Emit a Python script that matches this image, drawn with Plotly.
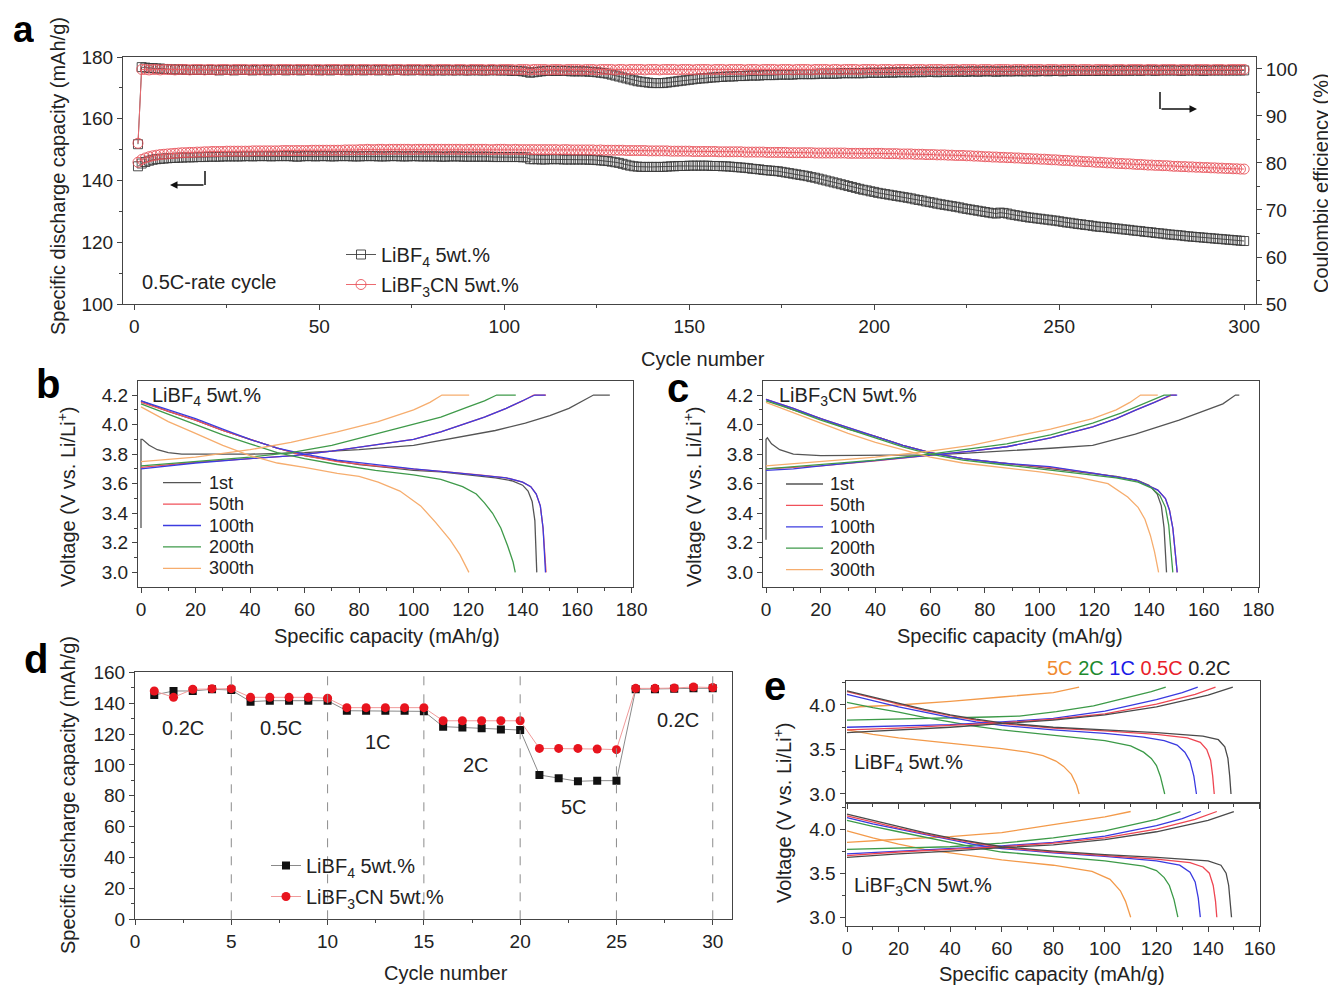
import plotly.graph_objects as go

# The page body has an 8px margin, so the figure is drawn 8px in from the window corner.
OFF = 8
W, H = 1336 - OFF, 986 - OFF


def px(x):
    return (x - OFF) / W


def py(y):
    return 1 - (y - OFF) / H


# ---------------- Panel a : 0.5C cycling ----------------
cycles_a = list(range(1, 301))
cap_bf4 = [
    144.6, 145.5, 146.0, 146.4, 146.7, 146.9, 147.0, 147.1, 147.2, 147.3, 147.3, 147.4, 147.4, 147.5, 147.5, 147.5, 147.6, 147.6, 147.6, 147.7,
    147.7, 147.7, 147.7, 147.8, 147.8, 147.8, 147.8, 147.8, 147.8, 147.9, 147.9, 147.8, 147.9, 147.9, 147.9, 147.9, 147.8, 147.9, 147.9, 147.9,
    147.9, 147.9, 147.8, 147.7, 147.8, 147.9, 147.9, 147.9, 147.8, 147.9, 147.9, 147.9, 147.8, 147.8, 147.9, 147.9, 147.9, 147.9, 147.8, 147.8,
    147.8, 147.9, 147.9, 147.9, 147.9, 147.8, 147.8, 147.8, 147.9, 147.9, 147.9, 147.8, 147.8, 147.8, 147.9, 147.9, 147.8, 147.8, 147.8, 147.8,
    147.8, 147.8, 147.7, 147.7, 147.8, 147.8, 147.8, 147.8, 147.7, 147.7, 147.7, 147.7, 147.7, 147.7, 147.7, 147.7, 147.6, 147.6, 147.6, 147.6,
    147.6, 147.6, 147.6, 147.6, 147.5, 147.5, 146.9, 146.9, 146.9, 146.8, 146.8, 146.9, 146.9, 146.9, 146.9, 146.8, 146.8, 146.8, 146.8, 146.8,
    146.8, 146.8, 146.7, 146.7, 146.6, 146.5, 146.4, 146.3, 146.1, 145.9, 145.7, 145.4, 145.1, 144.8, 144.6, 144.5, 144.4, 144.4, 144.4, 144.4,
    144.4, 144.4, 144.4, 144.5, 144.6, 144.6, 144.7, 144.7, 144.7, 144.8, 144.8, 144.8, 144.8, 144.8, 144.8, 144.7, 144.7, 144.7, 144.6, 144.6,
    144.5, 144.4, 144.3, 144.2, 144.1, 144.0, 143.8, 143.7, 143.6, 143.4, 143.3, 143.2, 143.1, 143.0, 142.8, 142.6, 142.4, 142.2, 142.0, 141.8,
    141.6, 141.4, 141.1, 140.9, 140.6, 140.3, 140.0, 139.7, 139.4, 139.1, 138.8, 138.5, 138.2, 137.9, 137.6, 137.3, 137.0, 136.8, 136.5, 136.3,
    136.0, 135.8, 135.6, 135.4, 135.2, 135.0, 134.8, 134.6, 134.4, 134.2, 133.9, 133.7, 133.5, 133.2, 133.0, 132.8, 132.5, 132.3, 132.1, 131.9,
    131.7, 131.5, 131.3, 131.0, 130.8, 130.6, 130.4, 130.2, 130.0, 129.8, 129.6, 129.4, 129.3, 129.6, 129.5, 129.3, 129.0, 128.8, 128.6, 128.4,
    128.2, 128.0, 127.9, 127.7, 127.6, 127.4, 127.3, 127.1, 127.0, 126.8, 126.6, 126.4, 126.3, 126.1, 125.9, 125.8, 125.6, 125.5, 125.3, 125.1,
    125.0, 124.9, 124.8, 124.6, 124.5, 124.4, 124.2, 124.1, 124.0, 123.8, 123.7, 123.6, 123.4, 123.3, 123.2, 123.0, 122.9, 122.8, 122.6, 122.5,
    122.4, 122.3, 122.2, 122.0, 121.9, 121.8, 121.7, 121.6, 121.5, 121.4, 121.3, 121.2, 121.1, 121.0, 120.9, 120.8, 120.7, 120.6, 120.5, 120.4,
]
cap_cn = [
    145.9, 146.8, 147.3, 147.7, 148.0, 148.2, 148.4, 148.5, 148.6, 148.7, 148.8, 148.9, 149.0, 149.0, 149.1, 149.1, 149.2, 149.2, 149.3, 149.3,
    149.4, 149.4, 149.4, 149.4, 149.5, 149.5, 149.5, 149.5, 149.5, 149.5, 149.5, 149.6, 149.6, 149.6, 149.6, 149.6, 149.6, 149.6, 149.6, 149.7,
    149.7, 149.7, 149.7, 149.7, 149.7, 149.7, 149.7, 149.8, 149.8, 149.8, 149.8, 149.8, 149.8, 149.8, 149.8, 149.8, 149.9, 149.9, 149.9, 149.9,
    150.0, 150.0, 150.1, 150.0, 150.0, 150.1, 150.1, 150.0, 150.1, 150.1, 150.1, 150.1, 150.1, 150.1, 150.0, 150.1, 150.1, 150.1, 150.1, 150.1,
    150.1, 150.1, 150.1, 150.1, 150.1, 150.1, 150.1, 150.1, 150.0, 150.1, 150.1, 150.1, 150.1, 150.1, 150.1, 150.0, 150.0, 150.1, 150.1, 150.1,
    150.0, 150.0, 150.1, 150.0, 150.0, 150.0, 150.0, 150.0, 150.0, 150.0, 150.0, 150.0, 150.0, 150.0, 149.9, 150.0, 150.0, 149.9, 149.9, 149.9,
    149.9, 149.9, 149.9, 149.9, 149.8, 149.9, 149.8, 149.8, 149.8, 149.8, 149.8, 149.8, 149.7, 149.7, 149.7, 149.7, 149.7, 149.7, 149.6, 149.6,
    149.6, 149.6, 149.6, 149.6, 149.5, 149.5, 149.5, 149.5, 149.5, 149.5, 149.4, 149.4, 149.4, 149.4, 149.4, 149.4, 149.4, 149.3, 149.3, 149.3,
    149.3, 149.3, 149.3, 149.3, 149.2, 149.2, 149.2, 149.2, 149.2, 149.2, 149.1, 149.1, 149.1, 149.1, 149.1, 149.1, 149.0, 149.0, 149.0, 149.0,
    149.0, 149.0, 149.0, 148.9, 148.9, 148.9, 148.9, 148.9, 148.9, 148.9, 148.9, 148.9, 148.8, 148.8, 148.8, 148.8, 148.8, 148.8, 148.8, 148.8,
    148.8, 148.8, 148.7, 148.7, 148.7, 148.7, 148.6, 148.6, 148.6, 148.6, 148.5, 148.5, 148.5, 148.4, 148.4, 148.4, 148.3, 148.3, 148.3, 148.2,
    148.2, 148.1, 148.1, 148.1, 148.0, 148.0, 147.9, 147.9, 147.8, 147.7, 147.7, 147.6, 147.6, 147.5, 147.5, 147.4, 147.4, 147.3, 147.3, 147.2,
    147.1, 147.1, 147.0, 147.0, 146.9, 146.9, 146.8, 146.7, 146.7, 146.6, 146.5, 146.5, 146.4, 146.3, 146.3, 146.2, 146.1, 146.1, 146.0, 145.9,
    145.9, 145.8, 145.7, 145.7, 145.6, 145.5, 145.5, 145.4, 145.4, 145.3, 145.2, 145.2, 145.1, 145.0, 145.0, 144.9, 144.9, 144.8, 144.8, 144.7,
    144.6, 144.6, 144.5, 144.5, 144.4, 144.4, 144.3, 144.3, 144.2, 144.2, 144.1, 144.1, 144.0, 144.0, 143.9, 143.9, 143.8, 143.8, 143.7, 143.7,
]
ce_bf4 = [
    84.0, 100.4, 100.3, 100.2, 100.2, 100.1, 100.1, 100.0, 100.0, 99.9, 99.9, 99.9, 99.9, 99.8, 99.8, 99.8, 99.8, 99.8, 99.8, 99.8,
    99.8, 99.8, 99.7, 99.8, 99.8, 99.8, 99.7, 99.8, 99.8, 99.8, 99.8, 99.7, 99.8, 99.8, 99.8, 99.7, 99.8, 99.8, 99.8, 99.8,
    99.7, 99.8, 99.8, 99.8, 99.7, 99.8, 99.8, 99.8, 99.8, 99.7, 99.8, 99.8, 99.7, 99.8, 99.8, 99.8, 99.8, 99.7, 99.8, 99.8,
    99.8, 99.7, 99.8, 99.8, 99.8, 99.7, 99.8, 99.8, 99.7, 99.8, 99.8, 99.8, 99.7, 99.8, 99.7, 99.8, 99.8, 99.7, 99.8, 99.7,
    99.7, 99.8, 99.7, 99.7, 99.8, 99.7, 99.7, 99.8, 99.7, 99.7, 99.7, 99.8, 99.7, 99.7, 99.7, 99.7, 99.8, 99.7, 99.7, 99.7,
    99.7, 99.6, 99.6, 99.6, 99.5, 99.4, 99.2, 99.3, 99.4, 99.5, 99.6, 99.6, 99.6, 99.6, 99.6, 99.6, 99.6, 99.5, 99.5, 99.5,
    99.5, 99.5, 99.4, 99.4, 99.3, 99.2, 99.1, 99.0, 98.8, 98.6, 98.4, 98.2, 98.0, 97.8, 97.6, 97.4, 97.3, 97.2, 97.1, 97.0,
    97.0, 97.0, 97.0, 97.1, 97.2, 97.3, 97.4, 97.5, 97.6, 97.7, 97.8, 97.9, 98.0, 98.0, 98.1, 98.2, 98.2, 98.3, 98.3, 98.4,
    98.4, 98.4, 98.5, 98.5, 98.5, 98.6, 98.6, 98.6, 98.6, 98.7, 98.7, 98.7, 98.7, 98.8, 98.8, 98.8, 98.8, 98.8, 98.9, 98.9,
    98.9, 98.9, 98.9, 98.9, 99.0, 99.0, 99.0, 99.0, 99.0, 99.0, 99.1, 99.1, 99.1, 99.1, 99.1, 99.1, 99.1, 99.2, 99.2, 99.2,
    99.2, 99.2, 99.2, 99.3, 99.2, 99.3, 99.3, 99.3, 99.3, 99.3, 99.3, 99.4, 99.3, 99.4, 99.4, 99.4, 99.3, 99.4, 99.4, 99.4,
    99.4, 99.4, 99.5, 99.4, 99.4, 99.5, 99.5, 99.4, 99.5, 99.5, 99.5, 99.5, 99.4, 99.5, 99.5, 99.5, 99.5, 99.5, 99.6, 99.5,
    99.5, 99.6, 99.5, 99.5, 99.6, 99.6, 99.5, 99.6, 99.6, 99.6, 99.5, 99.6, 99.6, 99.6, 99.6, 99.6, 99.6, 99.6, 99.6, 99.6,
    99.6, 99.7, 99.6, 99.6, 99.6, 99.7, 99.6, 99.7, 99.6, 99.7, 99.7, 99.6, 99.7, 99.7, 99.7, 99.6, 99.7, 99.7, 99.7, 99.7,
    99.7, 99.7, 99.6, 99.7, 99.7, 99.7, 99.7, 99.7, 99.6, 99.7, 99.7, 99.7, 99.7, 99.7, 99.7, 99.7, 99.7, 99.7, 99.7, 99.7,
]
ce_cn = [
    84.2, 99.9, 99.9, 99.8, 99.9, 99.9, 99.8, 99.9, 99.9, 99.9, 99.8, 99.9, 99.9, 99.9, 99.8, 99.9, 99.9, 99.9, 99.8, 99.9,
    99.9, 99.8, 99.9, 99.9, 99.9, 99.8, 99.9, 99.9, 99.9, 99.9, 99.8, 99.9, 99.9, 99.8, 99.9, 99.9, 99.9, 99.8, 99.9, 99.9,
    99.9, 99.9, 99.8, 99.9, 99.9, 99.9, 99.9, 99.8, 99.9, 99.9, 99.8, 99.9, 99.9, 99.9, 99.9, 99.8, 99.9, 99.9, 99.9, 99.8,
    99.9, 99.9, 99.9, 99.8, 99.9, 99.9, 99.9, 99.9, 99.8, 99.9, 99.9, 99.9, 99.8, 99.9, 99.9, 99.9, 99.9, 99.8, 99.9, 99.9,
    99.8, 99.9, 99.9, 99.9, 99.9, 99.8, 99.9, 99.9, 99.9, 99.8, 99.9, 99.9, 99.9, 99.9, 99.8, 99.9, 99.9, 99.8, 99.9, 99.9,
    99.9, 99.9, 99.8, 99.9, 99.9, 99.9, 99.8, 99.9, 99.9, 99.9, 99.9, 99.8, 99.9, 99.9, 99.9, 99.8, 99.9, 99.9, 99.9, 99.9,
    99.8, 99.9, 99.9, 99.9, 99.8, 99.9, 99.9, 99.9, 99.9, 99.8, 99.9, 99.9, 99.8, 99.9, 99.9, 99.9, 99.9, 99.8, 99.9, 99.9,
    99.9, 99.8, 99.9, 99.9, 99.9, 99.9, 99.8, 99.9, 99.9, 99.9, 99.8, 99.9, 99.9, 99.9, 99.9, 99.8, 99.9, 99.9, 99.9, 99.8,
    99.9, 99.9, 99.9, 99.9, 99.8, 99.9, 99.9, 99.9, 99.8, 99.9, 99.9, 99.9, 99.9, 99.8, 99.9, 99.9, 99.9, 99.8, 99.9, 99.9,
    99.9, 99.9, 99.8, 99.9, 99.9, 99.9, 99.9, 99.8, 99.9, 99.9, 99.8, 99.9, 99.9, 99.9, 99.9, 99.8, 99.9, 99.9, 99.9, 99.9,
    99.8, 99.9, 99.9, 99.9, 99.8, 99.9, 99.9, 99.9, 99.9, 99.8, 99.9, 99.9, 99.9, 99.8, 99.9, 99.9, 99.9, 99.9, 99.8, 99.9,
    99.9, 99.9, 99.8, 99.9, 99.9, 99.9, 99.9, 99.8, 99.9, 99.9, 99.9, 99.8, 99.9, 99.9, 99.9, 99.9, 99.8, 99.9, 99.9, 99.9,
    99.8, 99.9, 99.9, 99.9, 99.9, 99.8, 99.9, 99.9, 99.9, 99.8, 99.9, 99.9, 99.9, 99.9, 99.8, 99.9, 99.9, 99.9, 99.8, 99.9,
    99.9, 99.9, 99.9, 99.8, 99.9, 99.9, 99.9, 99.8, 99.9, 99.9, 99.9, 99.9, 99.8, 99.9, 99.9, 99.9, 99.8, 99.9, 99.9, 99.9,
    99.9, 99.8, 99.9, 99.9, 99.9, 99.8, 99.9, 99.9, 99.9, 99.9, 99.8, 99.9, 99.9, 99.9, 99.8, 99.9, 99.9, 99.9, 99.9, 99.9,
]

# ---------------- Panel b : LiBF4 5wt.% voltage profiles (capacity, voltage) ----------------
b_chg_1st = [(0, 3.30), (0, 3.90), (0.5, 3.90), (3, 3.86), (6, 3.83), (10, 3.81), (15, 3.80), (40, 3.80), (60, 3.81), (80, 3.83),
             (100, 3.86), (118, 3.92), (130, 3.96), (141, 4.01), (150, 4.06), (157, 4.11), (162, 4.16), (166, 4.20), (172, 4.20)]
b_dis_1st = [(0, 4.16), (10, 4.09), (20, 4.03), (30, 3.96), (40, 3.90), (50, 3.84), (60, 3.79), (70, 3.76), (80, 3.73), (90, 3.71),
             (100, 3.69), (110, 3.68), (120, 3.66), (130, 3.64), (136, 3.62), (140, 3.59), (142, 3.55), (143.5, 3.48), (144.5, 3.35),
             (145.0, 3.15), (145.2, 3.0)]
b_chg_50 = [(0, 3.71), (10, 3.73), (20, 3.745), (40, 3.77), (56, 3.79), (70, 3.82), (85, 3.86), (100, 3.90), (110, 3.95), (118, 4.00),
            (126, 4.05), (134, 4.11), (140, 4.16), (144, 4.20), (148.6, 4.20)]
b_dis_50 = [(0, 4.15), (10, 4.09), (20, 4.03), (30, 3.96), (40, 3.90), (50, 3.84), (60, 3.79), (72, 3.75), (86, 3.72), (100, 3.70),
            (112, 3.68), (124, 3.66), (134, 3.64), (140, 3.61), (143, 3.58), (145, 3.53), (146.5, 3.45), (147.5, 3.30), (148.2, 3.12),
            (148.6, 3.0)]
b_chg_100 = [(0, 3.70), (10, 3.72), (20, 3.74), (40, 3.77), (56, 3.79), (70, 3.82), (85, 3.86), (100, 3.90), (110, 3.95), (118, 4.00),
             (126, 4.05), (134, 4.11), (140, 4.16), (144.5, 4.20), (148.4, 4.20)]
b_dis_100 = [(0, 4.16), (10, 4.10), (20, 4.04), (30, 3.97), (40, 3.90), (50, 3.84), (60, 3.80), (72, 3.76), (86, 3.73), (100, 3.70),
             (112, 3.68), (124, 3.66), (134, 3.64), (140, 3.61), (143, 3.58), (145, 3.53), (146.5, 3.45), (147.5, 3.30), (148.0, 3.12),
             (148.4, 3.0)]
b_chg_200 = [(0, 3.72), (20, 3.75), (40, 3.78), (55, 3.81), (70, 3.86), (87, 3.94), (100, 4.00), (110, 4.05), (120, 4.12), (126, 4.16),
             (130.5, 4.20), (137.5, 4.20)]
b_dis_200 = [(0, 4.14), (10, 4.07), (20, 4.00), (30, 3.93), (40, 3.87), (50, 3.81), (60, 3.77), (72, 3.73), (86, 3.69), (100, 3.66),
             (110, 3.63), (118, 3.58), (123, 3.53), (126, 3.47), (129, 3.40), (132, 3.30), (134.5, 3.18), (136.5, 3.07), (137.3, 3.0)]
b_chg_300 = [(0, 3.75), (20, 3.78), (40, 3.83), (55, 3.88), (72, 3.95), (87, 4.02), (100, 4.10), (106, 4.15), (110.4, 4.20), (120.4, 4.20)]
b_dis_300 = [(0, 4.12), (10, 4.02), (20, 3.94), (30, 3.86), (40, 3.79), (50, 3.74), (60, 3.71), (72, 3.67), (80, 3.65), (87, 3.61),
             (95, 3.55), (102.6, 3.45), (108, 3.34), (113.4, 3.22), (117, 3.12), (120.3, 3.0)]

# ---------------- Panel c : LiBF3CN 5wt.% voltage profiles ----------------
c_chg_1st = [(0, 3.22), (0, 3.90), (0.5, 3.91), (2, 3.87), (5, 3.83), (10, 3.80), (20, 3.79), (40, 3.79), (60, 3.795), (72, 3.805),
             (88, 3.82), (104, 3.84), (119.4, 3.86), (135, 3.935), (151, 4.03), (160, 4.09), (167, 4.14), (171.6, 4.20), (173, 4.20)]
c_dis_1st = [(0, 4.17), (10, 4.10), (20, 4.04), (30, 3.97), (40, 3.92), (50, 3.86), (60, 3.81), (72, 3.77), (86, 3.74), (100, 3.71),
             (115, 3.68), (128, 3.65), (136, 3.62), (140, 3.59), (143, 3.53), (144.5, 3.45), (145.5, 3.30), (146.0, 3.15), (146.4, 3.0)]
c_chg_50 = [(0, 3.70), (10, 3.71), (20, 3.72), (40, 3.755), (60, 3.79), (75, 3.82), (88, 3.85), (104, 3.91), (119.4, 3.985), (128, 4.04),
            (135.3, 4.10), (142, 4.15), (148.3, 4.20), (150.0, 4.20)]
c_dis_50 = [(0, 4.17), (10, 4.11), (20, 4.04), (30, 3.98), (40, 3.92), (50, 3.86), (60, 3.81), (72, 3.77), (86, 3.74), (103.7, 3.71),
            (120, 3.67), (135.3, 3.625), (143.2, 3.557), (146, 3.50), (147.5, 3.42), (148.7, 3.30), (149.5, 3.15), (150.0, 3.05), (150.3, 3.0)]
c_chg_100 = [(0, 3.69), (10, 3.70), (20, 3.72), (40, 3.755), (60, 3.79), (75, 3.82), (88, 3.85), (104, 3.91), (119.4, 3.985), (128, 4.04),
             (135.3, 4.10), (142, 4.15), (147.9, 4.20), (150.3, 4.20)]
c_dis_100 = [(0, 4.17), (10, 4.11), (20, 4.04), (30, 3.98), (40, 3.92), (50, 3.86), (60, 3.81), (72, 3.77), (86, 3.74), (103.7, 3.715),
             (120, 3.67), (135.3, 3.625), (143.2, 3.557), (146, 3.50), (147.5, 3.42), (148.7, 3.30), (149.5, 3.15), (150.0, 3.05), (150.3, 3.0)]
c_chg_200 = [(0, 3.70), (20, 3.73), (40, 3.76), (60, 3.80), (75, 3.835), (88, 3.87), (104, 3.93), (119.4, 4.01), (130, 4.08), (138, 4.14),
             (145.5, 4.20), (148, 4.20)]
c_dis_200 = [(0, 4.16), (10, 4.10), (20, 4.03), (30, 3.97), (40, 3.91), (50, 3.85), (60, 3.80), (72, 3.76), (86, 3.73), (100, 3.70),
             (115, 3.67), (128, 3.64), (136, 3.61), (141, 3.57), (144, 3.52), (146, 3.44), (147.2, 3.32), (148, 3.17), (148.5, 3.06), (148.7, 3.0)]
c_chg_300 = [(0, 3.72), (20, 3.75), (40, 3.78), (60, 3.82), (75, 3.86), (88, 3.91), (104, 3.97), (119.4, 4.04), (128, 4.10), (133, 4.15),
             (136.9, 4.20), (143.2, 4.20)]
c_dis_300 = [(0, 4.15), (10, 4.08), (20, 4.01), (30, 3.94), (40, 3.88), (50, 3.83), (60, 3.78), (72, 3.74), (86, 3.71), (100, 3.68),
             (115, 3.64), (125, 3.60), (132.2, 3.51), (136, 3.44), (138.5, 3.36), (140.5, 3.25), (142, 3.14), (143, 3.05), (143.5, 3.0)]

cycle_names = ["1st", "50th", "100th", "200th", "300th"]
cycle_colors = ["#555555", "#f0505a", "#3c3ce0", "#3f9a4a", "#f6ad6e"]

# ---------------- Panel d : rate capability ----------------
cycles_d = list(range(1, 31))
rate_bf4 = [145.3, 147.9, 147.9, 149.0, 148.5, 141.0, 141.6, 141.6, 141.6, 141.6,
            135.1, 135.1, 135.1, 135.1, 134.7, 124.8, 124.3, 123.7, 123.0, 122.6,
            93.5, 91.3, 89.4, 89.8, 89.8, 149.0, 149.0, 149.4, 149.6, 149.6]
rate_cn = [147.9, 143.8, 149.0, 149.4, 149.4, 143.8, 143.8, 143.8, 143.8, 143.2,
           137.1, 137.1, 137.1, 137.1, 137.1, 128.6, 128.6, 128.6, 128.6, 128.6,
           110.7, 110.7, 110.7, 110.3, 109.9, 149.6, 149.6, 149.8, 150.5, 150.1]
rate_bounds = [5, 10, 15, 20, 25, 30]
rate_labels = ["0.2C", "0.5C", "1C", "2C", "5C", "0.2C"]
rate_label_x = [2.5, 7.6, 12.6, 17.7, 22.8, 28.2]
rate_label_y = [124, 124, 115, 100, 73, 129]

# ---------------- Panel e : voltage profiles at different rates ----------------
e1_chg_5C = [(0, 3.96), (5, 3.98), (20, 4.00), (40, 4.04), (60, 4.09), (80, 4.14), (90, 4.20)]
e1_dis_5C = [(0, 3.72), (10, 3.67), (20, 3.63), (40, 3.57), (60, 3.51), (70, 3.47), (76, 3.43), (81, 3.37), (84, 3.31), (87, 3.22),
             (89, 3.10), (90, 3.0)]
e1_chg_2C = [(0, 3.83), (20, 3.84), (40, 3.85), (55, 3.865), (66.8, 3.876), (81.2, 3.925), (95.6, 3.99), (110, 4.09), (118, 4.15), (123.6, 4.20)]
e1_dis_2C = [(0, 4.03), (10, 3.97), (20, 3.92), (30, 3.86), (40, 3.81), (50, 3.76), (60, 3.72), (80, 3.66), (100, 3.60), (110, 3.54),
             (115, 3.47), (118, 3.40), (120, 3.32), (121.5, 3.20), (122.5, 3.10), (123.2, 3.0)]
e1_chg_1C = [(0, 3.75), (20, 3.765), (40, 3.78), (60, 3.81), (80, 3.85), (100, 3.93), (120, 4.06), (130, 4.14), (136, 4.20)]
e1_dis_1C = [(0, 4.12), (10, 4.05), (20, 3.98), (30, 3.92), (40, 3.86), (50, 3.81), (60, 3.77), (80, 3.72), (100, 3.68), (115, 3.64),
             (123, 3.60), (128, 3.55), (131, 3.47), (133, 3.37), (134.5, 3.20), (135.5, 3.0)]
e1_chg_05C = [(0, 3.72), (20, 3.74), (40, 3.77), (60, 3.80), (80, 3.84), (100, 3.90), (120, 4.01), (135, 4.12), (142.9, 4.20)]
e1_dis_05C = [(0, 4.15), (10, 4.08), (20, 4.01), (30, 3.94), (40, 3.88), (50, 3.83), (60, 3.79), (80, 3.74), (100, 3.71), (120, 3.67),
              (132, 3.63), (137, 3.58), (139.5, 3.50), (141, 3.38), (141.8, 3.20), (142.4, 3.0)]
e1_chg_02C = [(0, 3.69), (20, 3.72), (40, 3.75), (60, 3.79), (80, 3.83), (100, 3.89), (120, 3.98), (140, 4.11), (149.6, 4.20)]
e1_dis_02C = [(0, 4.16), (10, 4.09), (20, 4.02), (30, 3.95), (40, 3.89), (50, 3.84), (60, 3.80), (80, 3.75), (100, 3.72), (120, 3.69),
              (138, 3.65), (144, 3.61), (146.5, 3.53), (147.7, 3.40), (148.4, 3.20), (148.9, 3.0)]

e2_chg_5C = [(0, 3.85), (10, 3.87), (20, 3.885), (40, 3.915), (60, 3.96), (80, 4.05), (100, 4.14), (110, 4.20)]
e2_dis_5C = [(0, 3.98), (10, 3.90), (20, 3.83), (30, 3.77), (40, 3.73), (60, 3.65), (80, 3.59), (95, 3.52), (102, 3.43), (106, 3.30),
             (108, 3.18), (109.3, 3.07), (110, 3.0)]
e2_chg_2C = [(0, 3.77), (20, 3.785), (40, 3.80), (60, 3.84), (80, 3.90), (100, 3.98), (120, 4.11), (129.3, 4.20)]
e2_dis_2C = [(0, 4.10), (10, 4.03), (20, 3.97), (30, 3.91), (40, 3.85), (50, 3.79), (60, 3.74), (80, 3.69), (100, 3.64), (115, 3.58),
             (120, 3.53), (123, 3.45), (125, 3.36), (126.8, 3.20), (127.8, 3.08), (128.3, 3.0)]
e2_chg_1C = [(0, 3.72), (20, 3.75), (40, 3.78), (60, 3.81), (80, 3.85), (100, 3.92), (120, 4.04), (130, 4.12), (137.2, 4.20)]
e2_dis_1C = [(0, 4.13), (10, 4.06), (20, 4.00), (30, 3.94), (40, 3.88), (50, 3.82), (60, 3.78), (80, 3.73), (100, 3.69), (120, 3.64),
             (129, 3.59), (133, 3.51), (135, 3.40), (136.2, 3.22), (137, 3.0)]
e2_chg_05C = [(0, 3.70), (20, 3.74), (40, 3.77), (60, 3.80), (80, 3.84), (100, 3.90), (120, 4.00), (135, 4.11), (143.4, 4.20)]
e2_dis_05C = [(0, 4.15), (10, 4.08), (20, 4.01), (30, 3.95), (40, 3.89), (50, 3.84), (60, 3.79), (80, 3.74), (100, 3.70), (120, 3.66),
              (133, 3.62), (138, 3.57), (140.5, 3.50), (142, 3.36), (142.9, 3.18), (143.4, 3.0)]
e2_chg_02C = [(0, 3.68), (20, 3.72), (40, 3.75), (60, 3.79), (80, 3.82), (100, 3.88), (120, 3.97), (140, 4.10), (150, 4.20)]
e2_dis_02C = [(0, 4.17), (10, 4.10), (20, 4.03), (30, 3.96), (40, 3.90), (50, 3.85), (60, 3.80), (80, 3.75), (100, 3.71), (120, 3.68),
              (140, 3.64), (145, 3.59), (147, 3.50), (148, 3.36), (148.6, 3.20), (149.1, 3.0)]

rate_names = ["5C", "2C", "1C", "0.5C", "0.2C"]
rate_colors = ["#f39a4a", "#3c9a48", "#3a3ae0", "#ee4652", "#4a4a4a"]
rate_text_colors = ["#f08a30", "#1e8a2e", "#1a1ae6", "#e8202a", "#222222"]

# ---------------- build figure ----------------
fig = go.Figure()
FONT = "Liberation Sans, Arial, sans-serif"


def join(chg, dis):
    q = [p[0] for p in chg] + [None] + [p[0] for p in dis]
    v = [p[1] for p in chg] + [None] + [p[1] for p in dis]
    return q, v


sq_marker = dict(symbol="square-open", size=9, color="#3a3a3a", line=dict(width=0.9, color="#3a3a3a"))
ci_marker = dict(symbol="circle-open", size=10, color="#e8525a", line=dict(width=0.9, color="#e8525a"))

# panel a
fig.add_trace(go.Scatter(x=cycles_a, y=cap_bf4, mode="lines+markers", name="LiBF<sub>4</sub> 5wt.%",
                         marker=sq_marker, line=dict(color="#555555", width=1), xaxis="x", yaxis="y",
                         legend="legend", legendgroup="a1"))
fig.add_trace(go.Scatter(x=cycles_a, y=ce_bf4, mode="lines+markers", showlegend=False,
                         marker=sq_marker, line=dict(color="#555555", width=1), xaxis="x", yaxis="y2"))
fig.add_trace(go.Scatter(x=cycles_a, y=cap_cn, mode="lines+markers", name="LiBF<sub>3</sub>CN 5wt.%",
                         marker=ci_marker, line=dict(color="#ec6a70", width=1), xaxis="x", yaxis="y",
                         legend="legend", legendgroup="a2"))
fig.add_trace(go.Scatter(x=cycles_a, y=ce_cn, mode="lines+markers", showlegend=False,
                         marker=ci_marker, line=dict(color="#ec6a70", width=1), xaxis="x", yaxis="y2"))

# panels b and c (legend keys drawn as annotations + short lines, see below)
b_sets = [(b_chg_1st, b_dis_1st), (b_chg_50, b_dis_50), (b_chg_100, b_dis_100), (b_chg_200, b_dis_200), (b_chg_300, b_dis_300)]
c_sets = [(c_chg_1st, c_dis_1st), (c_chg_50, c_dis_50), (c_chg_100, c_dis_100), (c_chg_200, c_dis_200), (c_chg_300, c_dis_300)]
for sets, xa, ya in [(b_sets, "x3", "y3"), (c_sets, "x4", "y4")]:
    for (chg, dis), nm, col in zip(sets, cycle_names, cycle_colors):
        q, v = join(chg, dis)
        fig.add_trace(go.Scatter(x=q, y=v, mode="lines", name=nm, showlegend=False, line=dict(color=col, width=1.3),
                                 xaxis=xa, yaxis=ya, connectgaps=False))

# panel d
fig.add_trace(go.Scatter(x=cycles_d, y=rate_bf4, mode="lines+markers", name="LiBF<sub>4</sub> 5wt.%",
                         marker=dict(symbol="square", size=8, color="#111111"),
                         line=dict(color="#8a8a8a", width=1), xaxis="x5", yaxis="y5", legend="legend4", legendgroup="d1"))
fig.add_trace(go.Scatter(x=cycles_d, y=rate_cn, mode="lines+markers", name="LiBF<sub>3</sub>CN 5wt.%",
                         marker=dict(symbol="circle", size=9, color="#e8141e"),
                         line=dict(color="#f09a9a", width=1), xaxis="x5", yaxis="y5", legend="legend4", legendgroup="d2"))
for xb in rate_bounds:
    fig.add_shape(type="line", xref="x5", yref="y5 domain", x0=xb, x1=xb, y0=0, y1=1,
                  line=dict(color="#8c8c8c", width=1, dash="dash"))
for t, lx, ly in zip(rate_labels, rate_label_x, rate_label_y):
    fig.add_annotation(x=lx, y=ly, xref="x5", yref="y5", text=t, showarrow=False,
                       font=dict(size=20, color="#222", family=FONT))

# panel e
e1_sets = [(e1_chg_5C, e1_dis_5C), (e1_chg_2C, e1_dis_2C), (e1_chg_1C, e1_dis_1C), (e1_chg_05C, e1_dis_05C), (e1_chg_02C, e1_dis_02C)]
e2_sets = [(e2_chg_5C, e2_dis_5C), (e2_chg_2C, e2_dis_2C), (e2_chg_1C, e2_dis_1C), (e2_chg_05C, e2_dis_05C), (e2_chg_02C, e2_dis_02C)]
for sets, xa, ya in [(e1_sets, "x6", "y6"), (e2_sets, "x7", "y7")]:
    for (chg, dis), nm, col in zip(sets, rate_names, rate_colors):
        q, v = join(chg, dis)
        fig.add_trace(go.Scatter(x=q, y=v, mode="lines", name=nm, showlegend=False,
                                 line=dict(color=col, width=1.3), xaxis=xa, yaxis=ya))

# ---------------- axes ----------------
LC = "#444444"


def axstyle(dtick, minor_dtick, rng, domain, anchor, **kw):
    d = dict(range=rng, domain=domain, anchor=anchor, showline=True, linecolor=LC, linewidth=1, mirror=True,
             ticks="outside", ticklen=5, tickwidth=1, tickcolor=LC, showgrid=False, zeroline=False,
             dtick=dtick, tick0=0, tickfont=dict(size=19, color="#222", family=FONT),
             minor=dict(dtick=minor_dtick, tick0=0, ticks="outside", ticklen=3, tickcolor=LC, showgrid=False))
    d.update(kw)
    return d


fig.update_layout(
    xaxis=axstyle(50, 25, [-3.05, 303.2], [px(123), px(1256)], "y"),
    yaxis=axstyle(20, 10, [100, 180], [py(304), py(57)], "x"),
    yaxis2=dict(range=[50, 102.55], overlaying="y", side="right", anchor="x", showline=True, linecolor=LC, linewidth=1,
                ticks="outside", ticklen=5, tickcolor=LC, showgrid=False, zeroline=False, dtick=10, tick0=0,
                tickfont=dict(size=19, color="#222", family=FONT),
                minor=dict(dtick=5, tick0=0, ticks="outside", ticklen=3, tickcolor=LC)),
    xaxis3=axstyle(20, 10, [-1.1, 180.5], [px(138), px(633)], "y3"),
    yaxis3=axstyle(0.2, 0.1, [2.903, 4.297], [py(586.7), py(380.7)], "x3", tickformat=".1f"),
    xaxis4=axstyle(20, 10, [-1.1, 180.2], [px(763), px(1259)], "y4"),
    yaxis4=axstyle(0.2, 0.1, [2.903, 4.297], [py(586.7), py(380.7)], "x4", tickformat=".1f"),
    xaxis5=axstyle(5, 2.5, [0, 31], [px(135), px(732)], "y5"),
    yaxis5=axstyle(20, 10, [0, 160], [py(919.3), py(672.3)], "x5"),
    xaxis6=axstyle(20, 10, [-0.58, 160.3], [px(845.5), px(1260.4)], "y6", showticklabels=False),
    yaxis6=axstyle(0.5, 0.25, [2.902, 4.273], [py(802.7), py(680.7)], "x6", tickformat=".1f"),
    xaxis7=axstyle(20, 10, [-0.58, 160.3], [px(845.5), px(1260.4)], "y7"),
    yaxis7=axstyle(0.5, 0.25, [2.90, 4.30], [py(926), py(802.7)], "x7", tickformat=".1f"),
)

# ---------------- legends ----------------
fig.update_layout(
    legend=dict(x=px(341), y=py(235), xanchor="left", yanchor="top", bgcolor="rgba(0,0,0,0)",
                font=dict(size=20, color="#222", family=FONT), tracegroupgap=1),
    legend4=dict(x=px(266), y=py(846), xanchor="left", yanchor="top", bgcolor="rgba(0,0,0,0)",
                 font=dict(size=20, color="#222", family=FONT), tracegroupgap=2),
)


# ---------------- annotations (titles, labels) ----------------
def ann(text, x, y, size=20, angle=0, xanchor="center", color="#222", bold=False, height=None):
    if bold:
        text = "<b>" + text + "</b>"
    fig.add_annotation(x=px(x), y=py(y), xref="paper", yref="paper", text=text, showarrow=False,
                       textangle=angle, xanchor=xanchor, yanchor="middle", height=height,
                       font=dict(size=size, color=color, family=FONT))


# legend keys for panels b and c (cycle number legend)
for x_line0, x_line1, x_text, y_first in [(163, 201, 207, 482.7), (786, 823, 828, 484.0)]:
    for i, (nm, col) in enumerate(zip(cycle_names, cycle_colors)):
        yy = y_first + i * 21.4
        fig.add_shape(type="line", xref="paper", yref="paper", x0=px(x_line0), x1=px(x_line1), y0=py(yy), y1=py(yy),
                      line=dict(color=col, width=1.3))
        ann(nm, x_text, yy, size=18, xanchor="left")

# axis titles
ann("Specific discharge capacity (mAh/g)", 58, 176, angle=-90)
ann("Coulombic efficiency (%)", 1321, 183, angle=-90)
ann("Cycle number", 703, 359)
ann("Voltage (V vs. Li/Li<sup>+</sup>)", 66, 497, angle=-90)
ann("Specific capacity (mAh/g)", 387, 636)
ann("Voltage (V vs. Li/Li<sup>+</sup>)", 692, 497, angle=-90)
ann("Specific capacity (mAh/g)", 1010, 636)
ann("Specific discharge capacity (mAh/g)", 68, 795, angle=-90)
ann("Cycle number", 446, 973)
ann("Voltage (V vs. Li/Li<sup>+</sup>)", 782, 813, angle=-90)
ann("Specific capacity (mAh/g)", 1052, 974)

# panel letters
ann("a", 23, 29, size=37, bold=True, color="#000", height=30)
ann("b", 48, 384, size=40, bold=True, color="#000", height=34)
ann("c", 678, 388, size=40, bold=True, color="#000", height=34)
ann("d", 36, 659, size=40, bold=True, color="#000", height=34)
ann("e", 775, 686, size=40, bold=True, color="#000", height=34)

# in-panel texts
ann("0.5C-rate cycle", 140, 282, xanchor="left")
ann("LiBF<sub>4</sub> 5wt.%", 150, 396, xanchor="left")
ann("LiBF<sub>3</sub>CN 5wt.%", 777, 396, xanchor="left")
ann("LiBF<sub>4</sub> 5wt.%", 852, 763, xanchor="left")
ann("LiBF<sub>3</sub>CN 5wt.%", 852, 886, xanchor="left")
rate_header = " ".join('<span style="color:%s">%s</span>' % (c, n) for n, c in zip(rate_names, rate_text_colors))
ann(rate_header, 1045, 668, xanchor="left")

# direction arrows in panel a
fig.add_shape(type="line", xref="paper", yref="paper", x0=px(205), x1=px(205), y0=py(171), y1=py(185),
              line=dict(color="#111", width=1.5))
fig.add_annotation(x=px(170), y=py(185), ax=35, ay=0, xref="paper", yref="paper", axref="pixel", ayref="pixel",
                   showarrow=True, arrowhead=2, arrowsize=1, arrowwidth=1.5, arrowcolor="#111", text="")
fig.add_shape(type="line", xref="paper", yref="paper", x0=px(1160), x1=px(1160), y0=py(92), y1=py(109),
              line=dict(color="#111", width=1.5))
fig.add_annotation(x=px(1197), y=py(109), ax=-37, ay=0, xref="paper", yref="paper", axref="pixel", ayref="pixel",
                   showarrow=True, arrowhead=2, arrowsize=1, arrowwidth=1.5, arrowcolor="#111", text="")

fig.update_layout(width=W, height=H, margin=dict(l=0, r=0, t=0, b=0, autoexpand=False),
                  paper_bgcolor="white", plot_bgcolor="white",
                  font=dict(family=FONT, color="#222"))

fig.write_html("out.html")
